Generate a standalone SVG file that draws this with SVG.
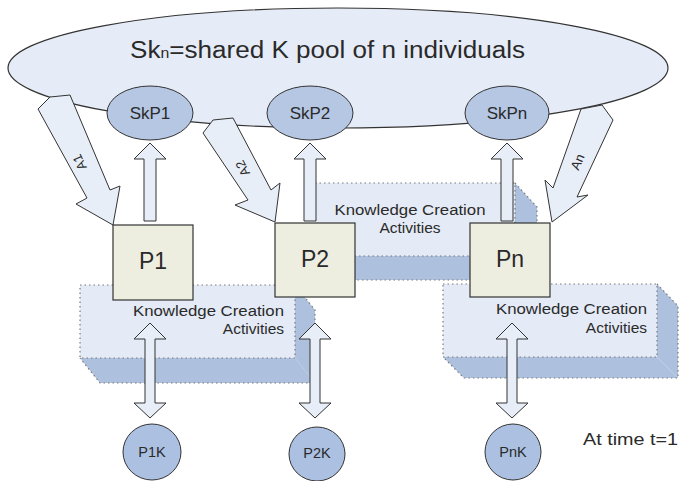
<svg xmlns="http://www.w3.org/2000/svg" width="679" height="481" viewBox="0 0 679 481">
<style>
text{font-family:"Liberation Sans",Arial,sans-serif;fill:#2a2a2a}
.pool{fill:#e6ecf7;stroke:#333;stroke-width:1.2}
.sk{fill:#b5c7e3;stroke:#333;stroke-width:1}
.pk{fill:#acc1e2;stroke:#333;stroke-width:1}
.p{fill:#eeeee0;stroke:#333;stroke-width:1.2}
.blk{fill:#e8eef8;stroke:#333;stroke-width:1;stroke-linejoin:miter}
.front{fill:#e4eaf6}
.depth{fill:#adc0de}
.dot{fill:none;stroke:#7a7a7a;stroke-width:1.2;stroke-dasharray:1.5 3}
.kca{font-size:15.5px}
</style>
<g id="pool">
<ellipse class="pool" cx="338" cy="68" rx="330" ry="60"/>
<text x="130" y="58" font-size="23" textLength="395" lengthAdjust="spacingAndGlyphs">Sk<tspan font-size="14">n</tspan>=shared K pool of n individuals</text>
</g>
<g id="connectors">
<g id="A1">
<polygon class="blk" points="38,109 50,97 70,95 110,190 120,186 113,225 76,204 87,198"/>
<text transform="translate(80,162) rotate(-115)" font-size="13" text-anchor="middle" dy="4">A1</text>
</g>
<g id="A2">
<polygon class="blk" points="203,133 213,120 233,118 271,190 280,183 275,222 235,205 248,200"/>
<text transform="translate(243,168) rotate(-118)" font-size="13" text-anchor="middle" dy="4">A2</text>
</g>
<g id="An">
<polygon class="blk" points="581,109 602,105 613,120 577,197 588,195 552,222 545,180 553,188"/>
<text transform="translate(578,162) rotate(-67)" font-size="13" text-anchor="middle" dy="4">An</text>
</g>
</g>
<g id="SkP1"><ellipse class="sk" cx="150" cy="113" rx="43" ry="27"/><text x="150" y="119" font-size="17" text-anchor="middle">SkP1</text></g>
<g id="SkP2"><ellipse class="sk" cx="310" cy="113" rx="43" ry="27"/><text x="310" y="119" font-size="17" text-anchor="middle">SkP2</text></g>
<g id="SkPn"><ellipse class="sk" cx="507" cy="113" rx="42" ry="27"/><text x="507" y="119" font-size="17" text-anchor="middle">SkPn</text></g>
<g id="KCA2">
<rect class="front" x="315" y="183" width="200" height="73"/>
<polygon class="depth" points="515,183 537,207 537,280 515,256"/>
<polygon class="depth" points="315,256 515,256 537,280 337,280"/>
<path class="dot" d="M315,183 H515 V256 H315 Z M515,183 L537,207 V280 H337 L315,256"/>
<text class="kca" x="410" y="215" text-anchor="middle" textLength="151" lengthAdjust="spacingAndGlyphs">Knowledge Creation</text>
<text class="kca" x="410" y="233" text-anchor="middle">Activities</text>
</g>
<g id="KCA1">
<rect class="front" x="80" y="285" width="215" height="73"/>
<polygon class="depth" points="295,285 315,310 315,383 295,358"/>
<polygon class="depth" points="80,358 295,358 315,383 100,383"/>
<path class="dot" d="M80,285 H295 V358 H80 Z M295,285 L315,310 V383 H100 L80,358"/>
<text class="kca" x="284" y="316" text-anchor="end" textLength="151" lengthAdjust="spacingAndGlyphs">Knowledge Creation</text>
<text class="kca" x="284" y="334" text-anchor="end">Activities</text>
</g>
<g id="KCA3">
<rect class="front" x="443" y="284" width="214" height="73"/>
<polygon class="depth" points="657,284 678,306 678,378 657,357"/>
<polygon class="depth" points="443,357 657,357 678,378 464,378"/>
<path class="dot" d="M443,284 H657 V357 H443 Z M657,284 L678,306 V378 H464 L443,357"/>
<text class="kca" x="647" y="314" text-anchor="end" textLength="151" lengthAdjust="spacingAndGlyphs">Knowledge Creation</text>
<text class="kca" x="647" y="333" text-anchor="end">Activities</text>
</g>
<g id="up-arrows">
<polygon class="blk" points="150,143 166,159 156,159 156,221 144,221 144,159 134,159"/>
<polygon class="blk" points="310,143 326,159 316,159 316,221 304,221 304,159 294,159"/>
<polygon class="blk" points="507,143 523,159 513,159 513,221 501,221 501,159 491,159"/>
</g>
<g id="P1"><rect class="p" x="113" y="225" width="80" height="75"/><text x="153" y="269" font-size="23" text-anchor="middle">P1</text></g>
<g id="P2"><rect class="p" x="275" y="223" width="80" height="74"/><text x="315" y="267" font-size="23" text-anchor="middle">P2</text></g>
<g id="Pn"><rect class="p" x="470" y="223" width="80" height="74"/><text x="510" y="267" font-size="23" text-anchor="middle">Pn</text></g>
<g id="double-arrows">
<polygon class="blk" points="150,323 166,339 155,339 155,403 166,403 150,418 134,403 145,403 145,339 134,339"/>
<polygon class="blk" points="315,323 331,339 320,339 320,403 331,403 315,418 299,403 310,403 310,339 299,339"/>
<polygon class="blk" points="512,323 528,339 517,339 517,403 528,403 512,418 496,403 507,403 507,339 496,339"/>
</g>
<g id="P1K"><ellipse class="pk" cx="152" cy="452" rx="29" ry="28"/><text x="152" y="457" font-size="14.5" text-anchor="middle">P1K</text></g>
<g id="P2K"><ellipse class="pk" cx="317" cy="454" rx="28" ry="27"/><text x="317" y="458" font-size="14.5" text-anchor="middle">P2K</text></g>
<g id="PnK"><ellipse class="pk" cx="513" cy="452" rx="28" ry="28"/><text x="513" y="457" font-size="14.5" text-anchor="middle">PnK</text></g>
<text x="583" y="445" font-size="16" textLength="95" lengthAdjust="spacingAndGlyphs">At time t=1</text>
</svg>
